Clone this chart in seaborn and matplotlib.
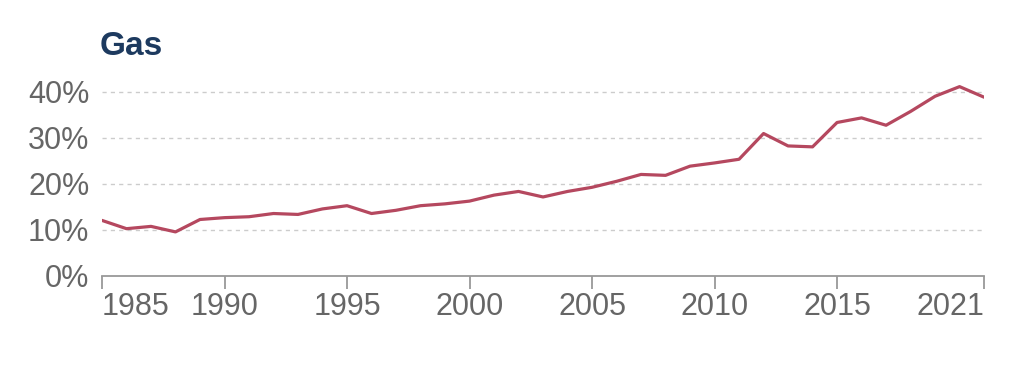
import numpy as np
import pandas as pd
import seaborn as sns
import matplotlib.pyplot as plt
from matplotlib.ticker import FuncFormatter

years = list(range(1985, 2022))
gas_share = [12.0, 10.2, 10.7, 9.5, 12.2, 12.6, 12.8, 13.5, 13.3, 14.5,
             15.2, 13.5, 14.2, 15.2, 15.6, 16.2, 17.5, 18.3, 17.1, 18.3,
             19.2, 20.5, 22.0, 21.8, 23.8, 24.5, 25.3, 30.9, 28.2, 28.0,
             33.3, 34.3, 32.7, 35.7, 39.0, 41.1, 38.8]
tick_years = [1985, 1990, 1995, 2000, 2005, 2010, 2015, 2021]
y_ticks = [0, 10, 20, 30, 40]

df = pd.DataFrame({"year": years, "share": gas_share})

sns.set_theme(style="white")
plt.rcParams["font.family"] = ["Liberation Sans", "DejaVu Sans"]

fig = plt.figure(figsize=(10.24, 3.65), dpi=100)
ax = fig.add_axes([0.0996, 0.245, 0.8614, 0.529])

sns.lineplot(data=df, x="year", y="share", color="#b5485f", linewidth=2.3, ax=ax)

ax.set_xlim(1985, 2021)
ax.set_ylim(0, 42)
ax.set_xticks(tick_years)
ax.set_yticks(y_ticks)
ax.yaxis.set_major_formatter(FuncFormatter(lambda v, p: f"{v:.0f}%"))

# dashed gridlines except at zero
for v in y_ticks[1:]:
    ax.axhline(v, color="#cccccc", linestyle=(0, (3, 3)), linewidth=1.0, zorder=0)

for s in ["top", "right", "left"]:
    ax.spines[s].set_visible(False)
ax.spines["bottom"].set_color("#999999")
ax.spines["bottom"].set_linewidth(1.3)

ax.tick_params(axis="x", which="both", bottom=True, length=9, width=1.3,
               color="#999999", labelsize=22, labelcolor="#666666", pad=3)
ax.tick_params(axis="y", left=False, length=0, labelsize=22,
               labelcolor="#666666", pad=9)

xlabels = ax.get_xticklabels()
xlabels[0].set_ha("left")
xlabels[-1].set_ha("right")

ax.set_xlabel("")
ax.set_ylabel("")

fig.text(0.0976, 0.849, "Gas", fontsize=24, fontweight="bold", color="#1d3a5f",
         ha="left", va="baseline")

fig.savefig("out.png", dpi=100, facecolor="white")
